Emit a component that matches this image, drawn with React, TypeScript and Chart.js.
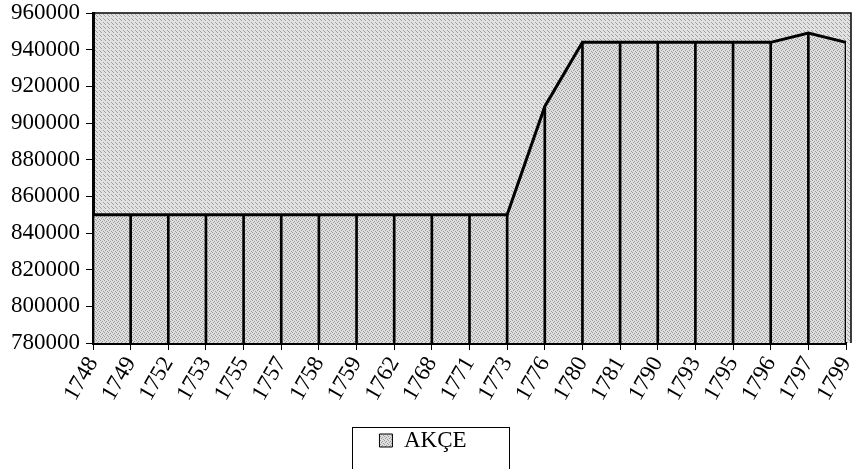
import React, { useEffect, useRef } from "react";
import { Chart, registerables } from "chart.js";

Chart.register(...registerables);

const categories = [
  "1748", "1749", "1752", "1753", "1755", "1757", "1758", "1759", "1762", "1768", "1771",
  "1773", "1776", "1780", "1781", "1790", "1793", "1795", "1796", "1797", "1799",
];
const akceValues = [
  850000, 850000, 850000, 850000, 850000, 850000, 850000, 850000, 850000, 850000, 850000,
  850000, 909000, 944000, 944000, 944000, 944000, 944000, 944000, 949000, 944000,
];
const seriesLabel = "AKÇE";
const yMin = 780000;
const yMax = 960000;
const yStep = 20000;

const FONT = "'Liberation Serif', 'Times New Roman', serif";

function makePattern(base: string, dot: string, dots: number[][]) {
  const c = document.createElement("canvas");
  c.width = 4;
  c.height = 4;
  const g = c.getContext("2d")!;
  g.fillStyle = base;
  g.fillRect(0, 0, 4, 4);
  g.fillStyle = dot;
  dots.forEach(([x, y]) => g.fillRect(x, y, 1, 1));
  return g.createPattern(c, "repeat")!;
}

export default function App() {
  const ref = useRef<HTMLCanvasElement | null>(null);

  useEffect(() => {
    document.body.style.margin = "0";
    const canvas = ref.current!;
    const areaPattern = makePattern("#dedede", "#9a9a9a", [[0, 0], [2, 1], [1, 2], [3, 3]]);
    const bgPattern = makePattern("#e2e2e2", "#a0a0a0", [[1, 0], [3, 2], [0, 3]]);

    const framePlugin = {
      id: "frame",
      beforeDraw(chart: any) {
        const { ctx, chartArea } = chart;
        ctx.save();
        ctx.fillStyle = bgPattern;
        ctx.fillRect(chartArea.left, chartArea.top, chartArea.right - chartArea.left + 5, chartArea.bottom - chartArea.top);
        ctx.restore();
      },
      afterDraw(chart: any) {
        const { ctx, chartArea } = chart;
        ctx.save();
        ctx.strokeStyle = "#000";
        ctx.lineWidth = 1.5;
        ctx.beginPath();
        ctx.moveTo(chartArea.left, chartArea.top);
        ctx.lineTo(chartArea.right + 5, chartArea.top);
        ctx.lineTo(chartArea.right + 5, chartArea.bottom);
        ctx.stroke();
        const hb = chart.legend && chart.legend.legendHitBoxes && chart.legend.legendHitBoxes[0];
        if (hb) {
          ctx.lineWidth = 1;
          ctx.strokeRect(Math.round(hb.left - 27) + 0.5, Math.round(hb.top - 2) + 0.5, 157, 80);
        }
        ctx.restore();
      },
    };

    const chart = new Chart(canvas, {
      data: {
        labels: categories,
        datasets: [
          {
            type: "line",
            label: seriesLabel,
            data: akceValues,
            borderColor: "#000",
            borderWidth: 3,
            backgroundColor: areaPattern,
            fill: "start",
            tension: 0,
            pointRadius: 0,
            order: 2,
          },
          {
            type: "bar",
            label: seriesLabel,
            data: akceValues,
            backgroundColor: "#000",
            barThickness: 2,
            order: 1,
          },
        ],
      } as any,
      options: {
        animation: false,
        responsive: false,
        maintainAspectRatio: false,
        layout: { padding: { top: 13, right: 9, left: 0, bottom: 7 } },
        plugins: {
          tooltip: { enabled: false },
          legend: {
            position: "bottom",
            labels: {
              color: "#000",
              font: { family: FONT, size: 23 },
              boxWidth: 13,
              boxHeight: 13,
              padding: 2,
              generateLabels: () => [
                {
                  text: seriesLabel,
                  fillStyle: areaPattern as any,
                  strokeStyle: "#000",
                  lineWidth: 1,
                  hidden: false,
                  datasetIndex: 0,
                } as any,
              ],
            },
          },
        },
        scales: {
          x: {
            type: "category",
            offset: false,
            grid: {
              display: true,
              drawOnChartArea: false,
              offset: false,
              color: "#000",
              tickLength: 7,
              lineWidth: 1,
            },
            border: { display: true, color: "#000", width: 3 },
            ticks: {
              color: "#000",
              font: { family: FONT, size: 23 },
              minRotation: 60,
              maxRotation: 60,
              autoSkip: false,
              padding: 2,
            },
            afterFit: (scale: any) => {
              scale.height = 84;
              scale.paddingLeft = 0;
              scale.paddingRight = 0;
            },
          },
          y: {
            type: "linear",
            min: yMin,
            max: yMax,
            grid: {
              display: true,
              drawOnChartArea: false,
              color: "#000",
              tickLength: 7,
              lineWidth: 1,
            },
            border: { display: true, color: "#000", width: 3 },
            ticks: {
              stepSize: yStep,
              color: "#000",
              font: { family: FONT, size: 23 },
              padding: 6,
              callback: (v: any) => String(v),
            },
            afterFit: (scale: any) => {
              scale.width = 93;
              scale.paddingTop = 0;
              scale.paddingBottom = 0;
            },
          },
        },
      },
      plugins: [framePlugin],
    } as any);

    return () => chart.destroy();
  }, []);

  return <canvas ref={ref} width={855} height={469} style={{ display: "block" }} />;
}
